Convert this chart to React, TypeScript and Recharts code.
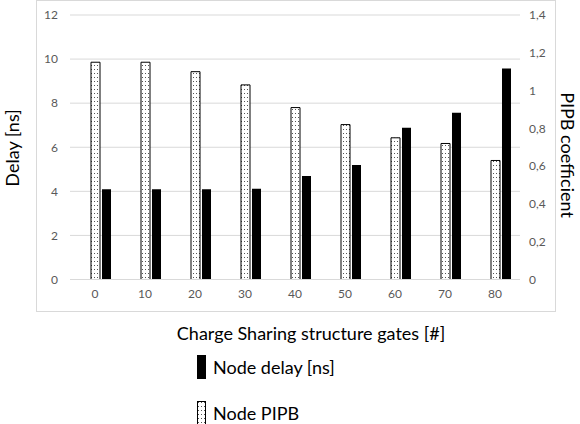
import React from "react";
import { BarChart, Bar, XAxis, YAxis, CartesianGrid, Legend } from "recharts";

const gates = [0, 10, 20, 30, 40, 50, 60, 70, 80];
const nodeDelay = [4.1, 4.1, 4.1, 4.12, 4.69, 5.19, 6.88, 7.57, 9.57];
const nodePipb = [1.15, 1.15, 1.1, 1.03, 0.91, 0.82, 0.75, 0.72, 0.63];
const delayTicks = [0, 2, 4, 6, 8, 10, 12];
const pipbTicks = [0, 0.2, 0.4, 0.6, 0.8, 1, 1.2, 1.4];

const FONT = "Lato, 'Liberation Sans', sans-serif";
const GRID = "#d9d9d9";
const TICK = "#595959";

const data = gates.map((g, i) => ({
  gate: g,
  delay: nodeDelay[i],
  pipb: nodePipb[i],
}));

const comma = (v: number) => String(v).replace(".", ",");

// plain svg text used for the axis titles
const Title = ({ tx, ty, rot, text }: any) => (
  <text
    x={tx}
    y={ty}
    transform={rot ? `rotate(${rot} ${tx} ${ty})` : undefined}
    textAnchor="middle"
    dominantBaseline="central"
    fontFamily={FONT}
    fontSize={18}
    fill="#000"
  >
    {text}
  </text>
);

const legendOrder = ["Node delay [ns]", "Node PIPB"];

const LegendBox = ({ payload }: any) => {
  const items = (payload || [])
    .filter((p: any) => legendOrder.includes(p.value))
    .sort((a: any, b: any) => legendOrder.indexOf(a.value) - legendOrder.indexOf(b.value));
  return (
    <div style={{ fontFamily: FONT, fontSize: 18, color: "#000" }}>
      {items.map((p: any) => (
        <div key={p.value} style={{ display: "flex", alignItems: "center", height: 24, marginBottom: 22 }}>
          <svg width={10} height={24} style={{ marginRight: 6 }}>
            <rect
              x={0.5}
              y={0.5}
              width={8}
              height={23}
              fill={p.value === "Node PIPB" ? "url(#dots)" : "#000"}
              stroke="#000"
              strokeWidth={1}
            />
          </svg>
          <span>{p.value}</span>
        </div>
      ))}
    </div>
  );
};

export default function App() {
  return (
    <div style={{ position: "fixed", left: 0, top: 0, width: 580, height: 424, background: "#fff" }}>
      <div
        style={{
          position: "absolute",
          left: 36,
          top: 0,
          width: 520,
          height: 312,
          border: `1px solid ${GRID}`,
          boxSizing: "border-box",
        }}
      />
      <BarChart
        width={580}
        height={424}
        data={data}
        margin={{ top: 15, right: 0, bottom: 114.5, left: 0 }}
        barSize={9}
        barGap={2}
        style={{ position: "absolute", left: 0, top: 0 }}
      >
        <defs>
          <pattern id="dots" width={3} height={4} patternUnits="userSpaceOnUse">
            <rect width={3} height={4} fill="#fff" />
            <rect x={1} y={1} width={1} height={1} fill="#555" />
          </pattern>
        </defs>
        <CartesianGrid yAxisId="left" vertical={false} stroke={GRID} />
        <XAxis
          dataKey="gate"
          height={30}
          tickLine={false}
          axisLine={{ stroke: GRID }}
          tickSize={0}
          tickMargin={10}
          tick={{ fill: TICK, fontSize: 12, fontFamily: FONT }}
          label={<Title tx={311} ty={333} text="Charge Sharing structure gates [#]" />}
        />
        <YAxis
          yAxisId="left"
          width={70}
          domain={[0, 12]}
          ticks={delayTicks}
          tickLine={false}
          axisLine={false}
          tickSize={0}
          tickMargin={12}
          tick={{ fill: TICK, fontSize: 12, fontFamily: FONT }}
          label={<Title tx={12} ty={148} rot={-90} text="Delay [ns]" />}
        />
        <YAxis
          yAxisId="right"
          orientation="right"
          width={60}
          domain={[0, 1.4]}
          ticks={pipbTicks}
          tickFormatter={comma}
          tickLine={false}
          axisLine={false}
          tickSize={0}
          tickMargin={9}
          tick={{ fill: TICK, fontSize: 12, fontFamily: FONT, textAnchor: "start" }}
          label={<Title tx={568} ty={155} rot={90} text="PIPB coefficient" />}
        />
        {/* empty slot so the pair sits right of the tick, like the original */}
        <Bar yAxisId="left" dataKey="spacer" legendType="none" fill="none" isAnimationActive={false} />
        <Bar
          yAxisId="right"
          dataKey="pipb"
          name="Node PIPB"
          fill="url(#dots)"
          stroke="#000"
          strokeWidth={1}
          isAnimationActive={false}
        />
        <Bar yAxisId="left" dataKey="delay" name="Node delay [ns]" fill="#000" isAnimationActive={false} />
        <Legend
          layout="horizontal"
          verticalAlign="middle"
          align="center"
          content={<LegendBox />}
          wrapperStyle={{ position: "absolute", left: 197, top: 355, width: 220 }}
        />
      </BarChart>
    </div>
  );
}
